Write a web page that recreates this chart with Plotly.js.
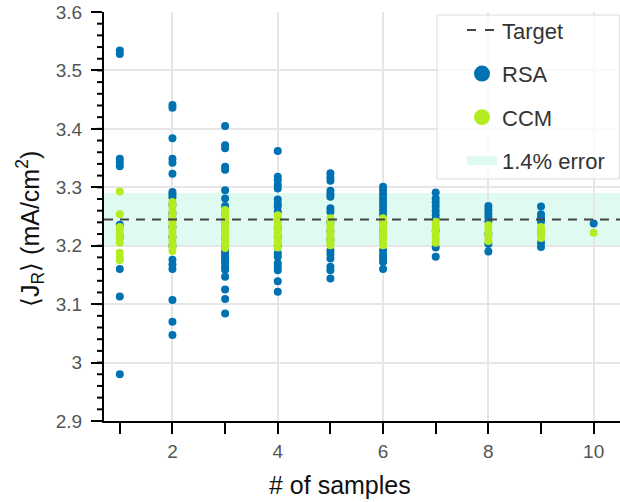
<!DOCTYPE html>
<html>
<head>
<meta charset="utf-8">
<script src="https://cdn.plot.ly/plotly-3.0.1.min.js"></script>
<style>
  html, body { margin: 0; padding: 0; background: #fff; }
  #chart { width: 620px; height: 502px; }
</style>
</head>
<body>
<div id="chart"></div>
<script>
// Mean current density estimates for each number of samples
const sampleCounts = [1, 2, 3, 4, 5, 6, 7, 8, 9, 10];

const rsa1 = [3.534, 3.528, 3.349, 3.343, 3.336, 3.236, 3.215, 3.160, 3.113, 2.980];
const rsa2 = [3.441, 3.436, 3.384, 3.349, 3.342, 3.323, 3.292, 3.288, 3.283, 3.270, 3.255, 3.246, 3.232,
              3.215, 3.200, 3.176, 3.168, 3.160, 3.107, 3.070, 3.047];
const rsa3 = [3.405, 3.372, 3.367, 3.335, 3.330, 3.295, 3.281, 3.268, 3.255, 3.240, 3.228, 3.214, 3.200,
              3.192, 3.187, 3.182, 3.178, 3.174, 3.170, 3.164, 3.159, 3.147, 3.125, 3.109, 3.084];
const rsa4 = [3.362, 3.318, 3.312, 3.304, 3.298, 3.279, 3.272, 3.267, 3.258, 3.245, 3.230, 3.215, 3.200,
              3.187, 3.181, 3.170, 3.164, 3.158, 3.139, 3.121];
const rsa5 = [3.324, 3.317, 3.311, 3.294, 3.288, 3.284, 3.264, 3.258, 3.240, 3.225, 3.210, 3.192, 3.186,
              3.178, 3.164, 3.158, 3.144];
const rsa6 = [3.301, 3.295, 3.288, 3.281, 3.274, 3.267, 3.260, 3.253, 3.240, 3.225, 3.210, 3.192, 3.184,
              3.178, 3.172, 3.160];
const rsa7 = [3.291, 3.281, 3.274, 3.267, 3.260, 3.253, 3.246, 3.225, 3.197, 3.181];
const rsa8 = [3.268, 3.261, 3.255, 3.249, 3.242, 3.220, 3.203, 3.190];
const rsa9 = [3.267, 3.254, 3.248, 3.242, 3.222, 3.205, 3.198];
const rsa10 = [3.238];

const ccm1 = [3.293, 3.254, 3.232, 3.227, 3.220, 3.213, 3.205, 3.188, 3.180, 3.175];
const ccm2 = [3.275, 3.268, 3.260, 3.252, 3.244, 3.238, 3.231, 3.225, 3.219, 3.212, 3.205, 3.198, 3.191];
const ccm3 = [3.261, 3.255, 3.249, 3.243, 3.238, 3.232, 3.226, 3.220, 3.214, 3.208, 3.202, 3.196];
const ccm4 = [3.252, 3.246, 3.240, 3.234, 3.228, 3.222, 3.216, 3.210, 3.204, 3.197];
const ccm5 = [3.247, 3.241, 3.235, 3.229, 3.223, 3.217, 3.211, 3.206, 3.201];
const ccm6 = [3.247, 3.241, 3.235, 3.229, 3.223, 3.217, 3.211, 3.206, 3.201];
const ccm7 = [3.241, 3.235, 3.229, 3.223, 3.217, 3.211, 3.205];
const ccm8 = [3.235, 3.229, 3.222, 3.215, 3.208];
const ccm9 = [3.232, 3.226, 3.220, 3.213];
const ccm10 = [3.222];

const targetValue = 3.245;
const errorPercent = 1.4;

const xTickLabels = ['2', '4', '6', '8', '10'];
const yTickLabels = ['2.9', '3', '3.1', '3.2', '3.3', '3.4', '3.5', '3.6'];

const seriesNames = { target: 'Target', rsa: 'RSA', ccm: 'CCM', band: errorPercent + '% error' };
const axisTitles = { x: '# of samples', y: '⟨J<sub>R</sub>⟩ (mA/cm<sup>2</sup>)' };
const colors = { rsa: '#0072b2', ccm: '#b4ec22', target: '#444444', band: '#dffaf1' };

// flatten the per-count groups into x/y pairs
function flatten(groups) {
  const xs = [], ys = [];
  groups.forEach((vals, i) => {
    vals.forEach(v => { xs.push(sampleCounts[i]); ys.push(v); });
  });
  return { x: xs, y: ys };
}

const rsa = flatten([rsa1, rsa2, rsa3, rsa4, rsa5, rsa6, rsa7, rsa8, rsa9, rsa10]);
const ccm = flatten([ccm1, ccm2, ccm3, ccm4, ccm5, ccm6, ccm7, ccm8, ccm9, ccm10]);

const bandLow = targetValue * (1 - errorPercent / 100);
const bandHigh = targetValue * (1 + errorPercent / 100);

const xRange = [0.7, 10.5];
const yRange = [2.9, 3.6];

const plotLeft = 104, plotRight = 0, plotTop = 12, plotBottom = 81;
const plotW = 620 - plotLeft - plotRight, plotH = 502 - plotTop - plotBottom;

// short minor ticks every 0.02 along the left axis
const yMinorStep = 0.02, yMinorLen = 7;
const minorTickShapes = [];
for (let k = 0; k <= Math.round((yRange[1] - yRange[0]) / yMinorStep); k++) {
  const v = +(yRange[0] + k * yMinorStep).toFixed(2);
  minorTickShapes.push({
    type: 'line', layer: 'above', xref: 'paper', yref: 'y',
    x0: -yMinorLen / plotW, x1: 0, y0: v, y1: v,
    line: { color: '#000', width: 2 }
  });
}

const fontFamily = '"Liberation Sans", Arial, Helvetica, sans-serif';

const traces = [
  { type: 'scatter', mode: 'markers', x: rsa.x, y: rsa.y, showlegend: false,
    marker: { color: colors.rsa, size: 8, line: { width: 0 } }, hoverinfo: 'x+y' },
  { type: 'scatter', mode: 'markers', x: ccm.x, y: ccm.y, showlegend: false,
    marker: { color: colors.ccm, size: 8, line: { width: 0 } }, hoverinfo: 'x+y' },
  // legend entries
  { type: 'scatter', mode: 'lines', x: [null], y: [null], name: seriesNames.target,
    legendgroup: 'g1', legendrank: 1,
    line: { color: colors.target, width: 2, dash: '9px,9px' } },
  { type: 'scatter', mode: 'markers', x: [null], y: [null], name: seriesNames.rsa,
    legendgroup: 'g2', legendrank: 2,
    marker: { color: colors.rsa, size: 16 } },
  { type: 'scatter', mode: 'markers', x: [null], y: [null], name: seriesNames.ccm,
    legendgroup: 'g3', legendrank: 3,
    marker: { color: colors.ccm, size: 16 } },
  { type: 'scatter', mode: 'lines', x: [null], y: [null], name: seriesNames.band,
    legendgroup: 'g4', legendrank: 4,
    line: { color: colors.band, width: 9 } }
];

const layout = {
  width: 620, height: 502,
  margin: { l: plotLeft, r: plotRight, t: plotTop, b: plotBottom },
  paper_bgcolor: '#ffffff', plot_bgcolor: '#ffffff',
  font: { family: fontFamily, color: '#444444' },
  showlegend: true,
  legend: {
    x: (462 - plotLeft) / plotW, y: 1.007, xanchor: 'left', yanchor: 'top',
    bgcolor: 'rgba(0,0,0,0)', borderwidth: 0,
    font: { size: 22, color: '#333333', family: fontFamily },
    traceorder: 'grouped', tracegroupgap: 12
  },
  xaxis: {
    range: xRange, showline: true, linecolor: '#000', linewidth: 2, mirror: false,
    tickmode: 'array', tickvals: xTickLabels.map(Number), ticktext: xTickLabels,
    ticks: 'outside', ticklen: 11, tickwidth: 2, tickcolor: '#000',
    tickfont: { size: 19, color: '#555555' }, ticklabelstandoff: 1,
    showgrid: true, gridcolor: '#e6e6e6', gridwidth: 2, zeroline: false,
    minor: { tickmode: 'array', tickvals: sampleCounts, ticks: 'outside', ticklen: 11, tickwidth: 2,
             tickcolor: '#000', showgrid: false }
  },
  yaxis: {
    range: yRange, showline: true, linecolor: '#000', linewidth: 2,
    tickmode: 'array', tickvals: yTickLabels.map(Number), ticktext: yTickLabels,
    ticks: 'outside', ticklen: 11, tickwidth: 2, tickcolor: '#000',
    tickfont: { size: 19, color: '#555555' }, ticklabelstandoff: 5,
    showgrid: true, gridcolor: '#e6e6e6', gridwidth: 2, zeroline: false
  },
  annotations: [
    { text: axisTitles.x, xref: 'paper', yref: 'paper', x: (340 - plotLeft) / plotW, y: (421 - 485) / plotH,
      xanchor: 'center', yanchor: 'middle', showarrow: false,
      font: { size: 25, color: '#111111', family: fontFamily } },
    { text: axisTitles.y, xref: 'paper', yref: 'paper', x: (30 - plotLeft) / plotW, y: (421 - 229) / plotH,
      xanchor: 'center', yanchor: 'middle', showarrow: false, textangle: -90,
      font: { size: 25, color: '#111111', family: fontFamily } }
  ],
  shapes: [
    // error band around the target
    { type: 'rect', layer: 'below', xref: 'paper', yref: 'y', x0: 0, x1: 1,
      y0: bandLow, y1: bandHigh, fillcolor: colors.band, line: { width: 0 } },
    // target line
    { type: 'line', layer: 'above', xref: 'paper', yref: 'y', x0: 0, x1: 1,
      y0: targetValue, y1: targetValue, line: { color: colors.target, width: 2, dash: '9px,7px' } },
    // legend frame
    { type: 'rect', layer: 'above', xref: 'paper', yref: 'paper',
      x0: (437 - plotLeft) / plotW, x1: (619.5 - plotLeft) / plotW,
      y0: (421 - 179) / plotH, y1: (421 - 15) / plotH,
      fillcolor: 'rgba(255,255,255,0.8)', line: { color: '#dddddd', width: 1 } }
  ].concat(minorTickShapes)
};

Plotly.newPlot('chart', traces, layout, { displayModeBar: false, staticPlot: true });
</script>
</body>
</html>
